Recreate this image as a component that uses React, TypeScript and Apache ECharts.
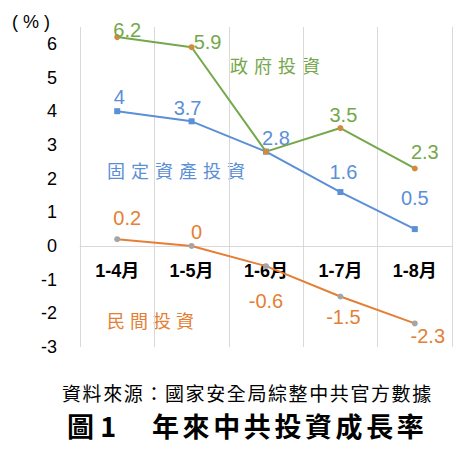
import React, { useEffect, useRef } from 'react'
import * as echarts from 'echarts'

const categories = ['1-4月', '1-5月', '1-6月', '1-7月', '1-8月']
const governmentValues = [6.2, 5.9, 2.8, 3.5, 2.3]
const fixedAssetValues = [4, 3.7, 2.8, 1.6, 0.5]
const privateValues = [0.2, 0, -0.6, -1.5, -2.3]
const yTicks = { min: -3, max: 6.5, interval: 1 }

// label offsets from each point (px), null = no label
const governmentOffsets: ([number, number] | null)[] = [[10, -7], [16, -5], null, [3, -13], [10, -16]]
const fixedAssetOffsets: ([number, number] | null)[] = [[2, -14], [-4, -13], [10, -14], [3, -20], [0, -31]]
const privateOffsets: ([number, number] | null)[] = [[10, -21], [5, -14], [0, 35], [3, 21], [13, 13]]

const GREEN = '#74a84a'
const BLUE = '#5b8fd6'
const ORANGE = '#e47f35'
const CJK = '"Noto Sans CJK TC", "Noto Sans CJK SC", sans-serif'
const LATIN = '"Liberation Sans", Arial, "Noto Sans CJK TC", sans-serif'

const GRID_TOP = 27
const GRID_BOTTOM = 103
const CHART_H = 450

const spacedText = (text: string, x: number, y: number, pitch: number, style: any) => ({
    type: 'group',
    children: Array.from(text).map((ch, i) => ({
        type: 'text',
        x: x + i * pitch,
        y,
        style: { text: ch, textVerticalAlign: 'middle', textAlign: 'left', ...style },
    })),
})

const buildData = (values: number[], offsets: ([number, number] | null)[]) =>
    values.map((v, i) => {
        const off = offsets[i]
        return {
            value: v,
            label: off ? { show: true, position: 'inside', offset: off } : { show: false },
        }
    })

const App: React.FC = () => {
    const chartRef = useRef<HTMLDivElement>(null)

    useEffect(() => {
        const chart = echarts.init(chartRef.current, null, { renderer: 'svg' })

        // move the category axis (line + labels) up from the bottom to the zero line
        const plotH = CHART_H - GRID_TOP - GRID_BOTTOM
        const zeroShift = (plotH * (0 - yTicks.min)) / (yTicks.max - yTicks.min)

        const labelStyle = (color: string) => ({
            color,
            fontSize: 20,
            fontFamily: LATIN,
            formatter: '{c}',
        })

        const option = {
            animation: false,
            grid: { left: 80, right: 20, top: GRID_TOP, bottom: GRID_BOTTOM },
            xAxis: {
                type: 'category',
                data: categories,
                boundaryGap: true,
                offset: -zeroShift,
                axisLine: { show: true, onZero: false, lineStyle: { color: '#d9d9d9', width: 1 } },
                axisTick: { show: false },
                axisLabel: { color: '#000', fontSize: 18, fontWeight: 'bold', fontFamily: LATIN, margin: 16 },
                splitLine: { show: true, lineStyle: { color: '#d9d9d9', width: 1 } },
            },
            yAxis: {
                type: 'value',
                min: yTicks.min,
                max: yTicks.max,
                interval: yTicks.interval,
                axisLine: { show: false },
                axisTick: { show: false },
                splitLine: { show: false },
                axisLabel: {
                    color: '#000',
                    fontSize: 18,
                    fontFamily: LATIN,
                    margin: 23,
                    formatter: (v: number) => (Number.isInteger(v) ? String(v) : ''),
                },
            },
            series: [
                {
                    name: '政府投資',
                    type: 'line',
                    data: buildData(governmentValues, governmentOffsets),
                    lineStyle: { color: GREEN, width: 2 },
                    itemStyle: { color: '#d5893c' },
                    symbol: 'circle',
                    symbolSize: 6,
                    label: labelStyle(GREEN),
                    z: 3,
                },
                {
                    name: '固定資產投資',
                    type: 'line',
                    data: buildData(fixedAssetValues, fixedAssetOffsets),
                    lineStyle: { color: BLUE, width: 2 },
                    itemStyle: { color: BLUE },
                    symbol: 'rect',
                    symbolSize: 6,
                    label: labelStyle(BLUE),
                    z: 2,
                },
                {
                    name: '民間投資',
                    type: 'line',
                    data: buildData(privateValues, privateOffsets),
                    lineStyle: { color: ORANGE, width: 2 },
                    itemStyle: { color: '#a5a5a5' },
                    symbol: 'circle',
                    symbolSize: 6,
                    label: labelStyle(ORANGE),
                    z: 2,
                },
            ],
            graphic: [
                {
                    type: 'text',
                    x: 12,
                    y: 22,
                    style: { text: '( % )', fill: '#000', fontSize: 18, fontFamily: LATIN, textVerticalAlign: 'middle' },
                },
                spacedText('政府投資', 230, 65, 24, { fill: GREEN, fontSize: 18, fontFamily: CJK }),
                spacedText('固定資產投資', 107, 170, 24, { fill: BLUE, fontSize: 18, fontFamily: CJK }),
                spacedText('民間投資', 107, 320, 23, { fill: ORANGE, fontSize: 18, fontFamily: CJK }),
                spacedText('資料來源：國家安全局綜整中共官方數據', 62, 392, 20.6, {
                    fill: '#000',
                    fontSize: 19,
                    fontFamily: CJK,
                }),
                {
                    type: 'text',
                    x: 67,
                    y: 425,
                    style: {
                        text: '圖 1',
                        fill: '#000',
                        fontSize: 27,
                        fontWeight: 'bold',
                        fontFamily: CJK,
                        textVerticalAlign: 'middle',
                    },
                },
                spacedText('年來中共投資成長率', 152, 425, 30.6, {
                    fill: '#000',
                    fontSize: 27,
                    fontWeight: 'bold',
                    fontFamily: CJK,
                }),
            ],
        }

        chart.setOption(option)

        return () => {
            chart.dispose()
        }
    }, [])

    return (
        <div
            ref={chartRef}
            style={{ position: 'absolute', left: 0, top: 0, width: '472px', height: '450px', background: '#fff' }}
        />
    )
}

export default App
